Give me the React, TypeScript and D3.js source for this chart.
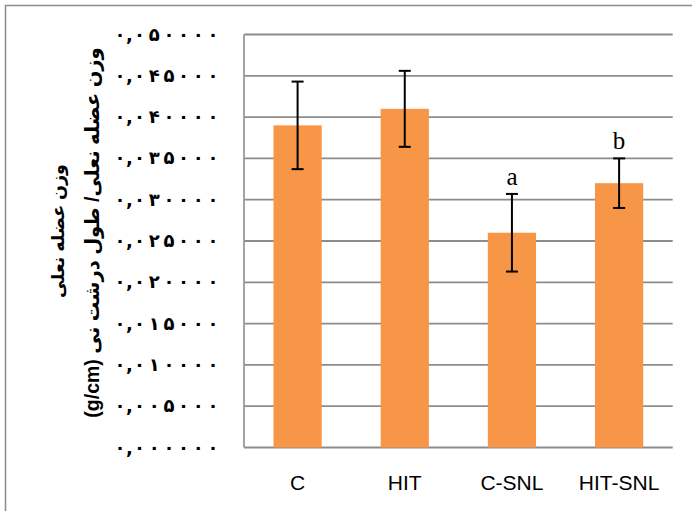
import React from "react";
import * as d3 from "d3";

const categories = ["C", "HIT", "C-SNL", "HIT-SNL"];
const means = [0.039, 0.041, 0.026, 0.032];
const errors = [0.0053, 0.0046, 0.0047, 0.003];
const letters = ["", "", "a", "b"];
const yTicks = [0, 0.005, 0.01, 0.015, 0.02, 0.025, 0.03, 0.035, 0.04, 0.045, 0.05];
const titleLine1 = "وزن عضله نعلی";
const titleLine2 = "وزن عضله نعلی/ طول درشت نی (g/cm)";

const W = 692;
const H = 511;
const left = 244;
const right = 672.7;
const top = 34.5;
const bottom = 447.5;

const persian = "۰۱۲۳۴۵۶۷۸۹";
function fmt(v: number) {
  return v
    .toFixed(6)
    .replace(".", ",")
    .replace(/[0-9]/g, (d) => persian[+d]);
}
// horizontal cell centres for each character of a tick label
const cellX = [120, 129.5, 139.5, 154.2, 168.9, 183.6, 198.3, 213];

export default function App() {
  const x = d3
    .scaleBand<string>()
    .domain(categories)
    .range([left, right])
    .paddingInner(0.55)
    .paddingOuter(0.275);
  const y = d3.scaleLinear().domain([0, 0.05]).range([bottom, top]);
  const bw = x.bandwidth();
  const cap = 6;

  return (
    <svg
      width={W}
      height={H}
      style={{ position: "absolute", left: 0, top: 0, background: "#fff" }}
    >
      <rect x={5.5} y={5.5} width={720} height={540} fill="#fff" stroke="#8c8c8c" strokeWidth={1.5} />
      {yTicks.map((t) => (
        <line
          key={"g" + t}
          x1={left}
          x2={right}
          y1={y(t)}
          y2={y(t)}
          stroke="#8c8c8c"
          strokeWidth={1.8}
        />
      ))}
      <line x1={left} x2={left} y1={top} y2={bottom} stroke="#9a9a9a" strokeWidth={1.8} />
      {yTicks.map((t) => (
        <g key={"t" + t} fontFamily="DejaVu Sans" fontWeight="bold" fontSize={18} fill="#000" textAnchor="middle">
          {Array.from(fmt(t)).map((ch, k) => (
            <text key={k} x={cellX[k]} y={y(t) + 6}>
              {ch}
            </text>
          ))}
        </g>
      ))}
      {categories.map((c, i) => {
        const cx = (x(c) as number) + bw / 2;
        return (
          <g key={c}>
            <rect x={x(c)} y={y(means[i])} width={bw} height={bottom - y(means[i])} fill="#F79646" />
            <line x1={cx} x2={cx} y1={y(means[i] + errors[i])} y2={y(means[i] - errors[i])} stroke="#000" strokeWidth={2} />
            <line x1={cx - cap} x2={cx + cap} y1={y(means[i] + errors[i])} y2={y(means[i] + errors[i])} stroke="#000" strokeWidth={2} />
            <line x1={cx - cap} x2={cx + cap} y1={y(means[i] - errors[i])} y2={y(means[i] - errors[i])} stroke="#000" strokeWidth={2} />
            {letters[i] && (
              <text
                x={cx}
                y={y(means[i] + errors[i]) - 9}
                textAnchor="middle"
                fontFamily="Liberation Serif"
                fontSize={25}
                fill="#000"
              >
                {letters[i]}
              </text>
            )}
            <text x={cx} y={490} textAnchor="middle" fontFamily="Liberation Sans" fontSize={21} fill="#000">
              {c}
            </text>
          </g>
        );
      })}
      <g fontFamily="Liberation Sans, DejaVu Sans" fontWeight="bold" fill="#000">
        <text transform="translate(64,231) rotate(-90)" textAnchor="middle" direction="rtl" fontSize={17.5}>
          {titleLine1}
        </text>
        <text transform="translate(99,232.5) rotate(-90)" textAnchor="middle" direction="rtl" fontSize={19.5}>
          {titleLine2}
        </text>
      </g>
    </svg>
  );
}
